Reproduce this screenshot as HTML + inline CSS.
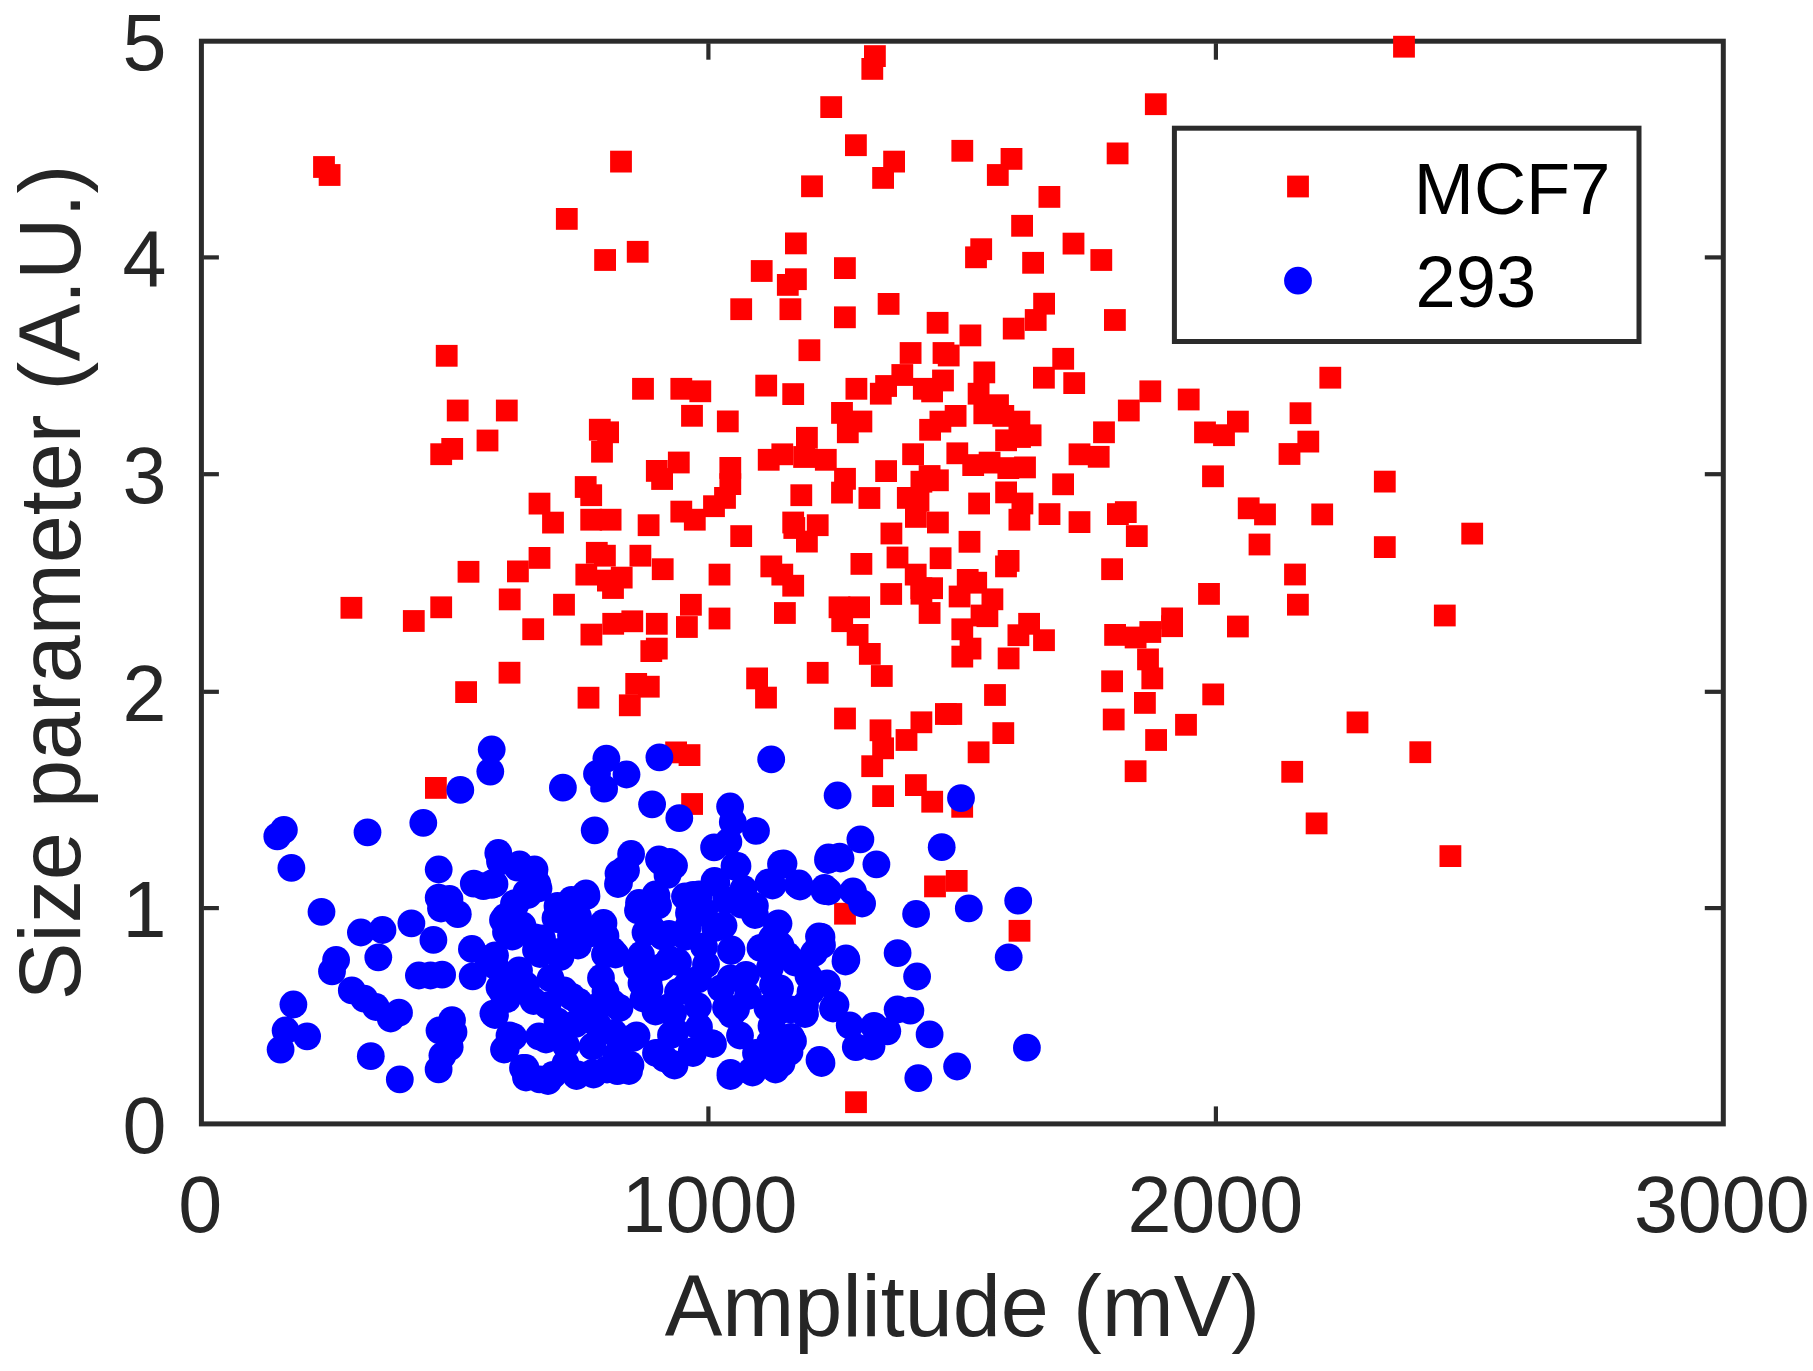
<!DOCTYPE html>
<html lang="en"><head><meta charset="utf-8"><title>Size parameter vs Amplitude</title>
<style>html,body{margin:0;padding:0;background:#fff}body{width:1813px;height:1371px;overflow:hidden}svg{display:block}text{font-family:"Liberation Sans",Arial,Helvetica,sans-serif}</style>
</head><body>
<svg width="1813" height="1371" viewBox="0 0 1813 1371">
<rect x="0" y="0" width="1813" height="1371" fill="#ffffff"/>
<g stroke="#2b2b2b" stroke-width="5" fill="none" stroke-linecap="butt">
<rect x="201.4" y="41.2" width="1521.9" height="1082.7"/>
</g>
<g stroke="#2b2b2b" stroke-width="4.2" fill="none">
<line x1="708.4" y1="1121.9" x2="708.4" y2="1106.4"/>
<line x1="708.4" y1="43.2" x2="708.4" y2="59.7"/>
<line x1="1215.9" y1="1121.9" x2="1215.9" y2="1106.4"/>
<line x1="1215.9" y1="43.2" x2="1215.9" y2="59.7"/>
<line x1="203.4" y1="257.4" x2="218.9" y2="257.4"/>
<line x1="1721.3" y1="257.4" x2="1704.8" y2="257.4"/>
<line x1="203.4" y1="474.2" x2="218.9" y2="474.2"/>
<line x1="1721.3" y1="474.2" x2="1704.8" y2="474.2"/>
<line x1="203.4" y1="691.8" x2="218.9" y2="691.8"/>
<line x1="1721.3" y1="691.8" x2="1704.8" y2="691.8"/>
<line x1="203.4" y1="908.1" x2="218.9" y2="908.1"/>
<line x1="1721.3" y1="908.1" x2="1704.8" y2="908.1"/>
</g>
<g fill="#ff0000">
<rect x="313.1" y="156.1" width="21.8" height="21.8"/>
<rect x="318.7" y="164.1" width="21.8" height="21.8"/>
<rect x="555.9" y="208.0" width="21.8" height="21.8"/>
<rect x="864.0" y="45.2" width="21.8" height="21.8"/>
<rect x="861.4" y="58.0" width="21.8" height="21.8"/>
<rect x="820.3" y="96.2" width="21.8" height="21.8"/>
<rect x="845.0" y="134.3" width="21.8" height="21.8"/>
<rect x="951.4" y="139.9" width="21.8" height="21.8"/>
<rect x="883.2" y="150.7" width="21.8" height="21.8"/>
<rect x="872.2" y="167.0" width="21.8" height="21.8"/>
<rect x="986.9" y="164.1" width="21.8" height="21.8"/>
<rect x="610.1" y="150.7" width="21.8" height="21.8"/>
<rect x="801.1" y="175.4" width="21.8" height="21.8"/>
<rect x="785.0" y="232.5" width="21.8" height="21.8"/>
<rect x="626.8" y="240.9" width="21.8" height="21.8"/>
<rect x="594.2" y="249.1" width="21.8" height="21.8"/>
<rect x="970.3" y="238.3" width="21.8" height="21.8"/>
<rect x="965.1" y="246.4" width="21.8" height="21.8"/>
<rect x="834.0" y="257.2" width="21.8" height="21.8"/>
<rect x="750.8" y="260.1" width="21.8" height="21.8"/>
<rect x="785.0" y="268.3" width="21.8" height="21.8"/>
<rect x="776.9" y="274.0" width="21.8" height="21.8"/>
<rect x="730.3" y="298.3" width="21.8" height="21.8"/>
<rect x="779.5" y="298.3" width="21.8" height="21.8"/>
<rect x="877.7" y="293.0" width="21.8" height="21.8"/>
<rect x="834.0" y="306.4" width="21.8" height="21.8"/>
<rect x="926.7" y="311.9" width="21.8" height="21.8"/>
<rect x="959.5" y="324.5" width="21.8" height="21.8"/>
<rect x="1144.9" y="93.3" width="21.8" height="21.8"/>
<rect x="1106.7" y="142.5" width="21.8" height="21.8"/>
<rect x="1000.6" y="148.0" width="21.8" height="21.8"/>
<rect x="1038.5" y="186.0" width="21.8" height="21.8"/>
<rect x="1011.2" y="214.9" width="21.8" height="21.8"/>
<rect x="1062.6" y="232.7" width="21.8" height="21.8"/>
<rect x="1090.4" y="249.1" width="21.8" height="21.8"/>
<rect x="1022.2" y="251.9" width="21.8" height="21.8"/>
<rect x="1033.2" y="292.8" width="21.8" height="21.8"/>
<rect x="1024.8" y="309.1" width="21.8" height="21.8"/>
<rect x="1002.8" y="317.7" width="21.8" height="21.8"/>
<rect x="1104.0" y="309.1" width="21.8" height="21.8"/>
<rect x="1393.1" y="35.8" width="21.8" height="21.8"/>
<rect x="435.8" y="344.9" width="21.8" height="21.8"/>
<rect x="446.8" y="399.6" width="21.8" height="21.8"/>
<rect x="495.9" y="399.6" width="21.8" height="21.8"/>
<rect x="476.6" y="429.6" width="21.8" height="21.8"/>
<rect x="441.3" y="438.0" width="21.8" height="21.8"/>
<rect x="430.3" y="443.3" width="21.8" height="21.8"/>
<rect x="528.6" y="492.7" width="21.8" height="21.8"/>
<rect x="542.1" y="511.7" width="21.8" height="21.8"/>
<rect x="528.6" y="547.0" width="21.8" height="21.8"/>
<rect x="457.6" y="560.9" width="21.8" height="21.8"/>
<rect x="507.0" y="560.5" width="21.8" height="21.8"/>
<rect x="340.5" y="596.9" width="21.8" height="21.8"/>
<rect x="430.3" y="596.4" width="21.8" height="21.8"/>
<rect x="402.9" y="610.1" width="21.8" height="21.8"/>
<rect x="498.8" y="588.5" width="21.8" height="21.8"/>
<rect x="553.1" y="593.8" width="21.8" height="21.8"/>
<rect x="522.3" y="618.3" width="21.8" height="21.8"/>
<rect x="798.5" y="339.3" width="21.8" height="21.8"/>
<rect x="632.1" y="377.9" width="21.8" height="21.8"/>
<rect x="670.4" y="377.9" width="21.8" height="21.8"/>
<rect x="689.4" y="380.4" width="21.8" height="21.8"/>
<rect x="755.3" y="374.7" width="21.8" height="21.8"/>
<rect x="782.3" y="383.2" width="21.8" height="21.8"/>
<rect x="845.5" y="377.9" width="21.8" height="21.8"/>
<rect x="681.1" y="404.9" width="21.8" height="21.8"/>
<rect x="716.9" y="410.5" width="21.8" height="21.8"/>
<rect x="831.1" y="402.0" width="21.8" height="21.8"/>
<rect x="836.9" y="421.4" width="21.8" height="21.8"/>
<rect x="588.9" y="418.8" width="21.8" height="21.8"/>
<rect x="597.2" y="421.4" width="21.8" height="21.8"/>
<rect x="591.1" y="440.8" width="21.8" height="21.8"/>
<rect x="796.0" y="426.9" width="21.8" height="21.8"/>
<rect x="771.4" y="443.4" width="21.8" height="21.8"/>
<rect x="757.8" y="448.9" width="21.8" height="21.8"/>
<rect x="793.2" y="446.1" width="21.8" height="21.8"/>
<rect x="814.9" y="448.9" width="21.8" height="21.8"/>
<rect x="667.9" y="451.6" width="21.8" height="21.8"/>
<rect x="645.9" y="460.0" width="21.8" height="21.8"/>
<rect x="651.2" y="468.1" width="21.8" height="21.8"/>
<rect x="719.4" y="457.0" width="21.8" height="21.8"/>
<rect x="719.4" y="473.2" width="21.8" height="21.8"/>
<rect x="714.1" y="487.0" width="21.8" height="21.8"/>
<rect x="703.1" y="495.3" width="21.8" height="21.8"/>
<rect x="670.4" y="500.7" width="21.8" height="21.8"/>
<rect x="683.9" y="508.8" width="21.8" height="21.8"/>
<rect x="574.8" y="476.1" width="21.8" height="21.8"/>
<rect x="580.3" y="484.3" width="21.8" height="21.8"/>
<rect x="580.3" y="508.8" width="21.8" height="21.8"/>
<rect x="599.7" y="508.8" width="21.8" height="21.8"/>
<rect x="637.7" y="514.3" width="21.8" height="21.8"/>
<rect x="834.1" y="467.9" width="21.8" height="21.8"/>
<rect x="831.1" y="481.7" width="21.8" height="21.8"/>
<rect x="790.4" y="484.3" width="21.8" height="21.8"/>
<rect x="782.3" y="511.6" width="21.8" height="21.8"/>
<rect x="783.4" y="517.1" width="21.8" height="21.8"/>
<rect x="796.0" y="530.7" width="21.8" height="21.8"/>
<rect x="806.8" y="514.3" width="21.8" height="21.8"/>
<rect x="730.3" y="525.2" width="21.8" height="21.8"/>
<rect x="585.9" y="541.9" width="21.8" height="21.8"/>
<rect x="594.0" y="544.8" width="21.8" height="21.8"/>
<rect x="629.5" y="544.8" width="21.8" height="21.8"/>
<rect x="899.7" y="342.1" width="21.8" height="21.8"/>
<rect x="891.4" y="364.1" width="21.8" height="21.8"/>
<rect x="875.2" y="375.1" width="21.8" height="21.8"/>
<rect x="869.9" y="382.8" width="21.8" height="21.8"/>
<rect x="932.6" y="342.1" width="21.8" height="21.8"/>
<rect x="937.8" y="344.6" width="21.8" height="21.8"/>
<rect x="932.1" y="369.6" width="21.8" height="21.8"/>
<rect x="912.9" y="377.9" width="21.8" height="21.8"/>
<rect x="921.2" y="380.5" width="21.8" height="21.8"/>
<rect x="973.4" y="361.5" width="21.8" height="21.8"/>
<rect x="967.7" y="382.8" width="21.8" height="21.8"/>
<rect x="987.1" y="394.3" width="21.8" height="21.8"/>
<rect x="973.4" y="402.4" width="21.8" height="21.8"/>
<rect x="992.4" y="405.0" width="21.8" height="21.8"/>
<rect x="1008.5" y="410.7" width="21.8" height="21.8"/>
<rect x="1019.7" y="424.4" width="21.8" height="21.8"/>
<rect x="995.2" y="429.4" width="21.8" height="21.8"/>
<rect x="1052.3" y="347.9" width="21.8" height="21.8"/>
<rect x="1033.0" y="366.8" width="21.8" height="21.8"/>
<rect x="1063.3" y="372.2" width="21.8" height="21.8"/>
<rect x="1117.9" y="399.6" width="21.8" height="21.8"/>
<rect x="1093.1" y="421.4" width="21.8" height="21.8"/>
<rect x="850.5" y="410.6" width="21.8" height="21.8"/>
<rect x="944.7" y="405.0" width="21.8" height="21.8"/>
<rect x="929.5" y="410.7" width="21.8" height="21.8"/>
<rect x="919.2" y="418.9" width="21.8" height="21.8"/>
<rect x="902.2" y="443.3" width="21.8" height="21.8"/>
<rect x="946.4" y="442.4" width="21.8" height="21.8"/>
<rect x="962.3" y="454.2" width="21.8" height="21.8"/>
<rect x="978.7" y="451.7" width="21.8" height="21.8"/>
<rect x="997.4" y="457.2" width="21.8" height="21.8"/>
<rect x="1014.1" y="456.5" width="21.8" height="21.8"/>
<rect x="995.2" y="481.5" width="21.8" height="21.8"/>
<rect x="1011.5" y="492.6" width="21.8" height="21.8"/>
<rect x="1008.5" y="508.8" width="21.8" height="21.8"/>
<rect x="1068.6" y="443.4" width="21.8" height="21.8"/>
<rect x="1087.8" y="445.9" width="21.8" height="21.8"/>
<rect x="1052.2" y="473.4" width="21.8" height="21.8"/>
<rect x="875.2" y="460.2" width="21.8" height="21.8"/>
<rect x="858.5" y="487.1" width="21.8" height="21.8"/>
<rect x="918.7" y="465.1" width="21.8" height="21.8"/>
<rect x="927.0" y="469.4" width="21.8" height="21.8"/>
<rect x="910.5" y="470.8" width="21.8" height="21.8"/>
<rect x="896.9" y="487.0" width="21.8" height="21.8"/>
<rect x="907.6" y="489.8" width="21.8" height="21.8"/>
<rect x="905.0" y="506.0" width="21.8" height="21.8"/>
<rect x="927.0" y="511.6" width="21.8" height="21.8"/>
<rect x="968.2" y="492.6" width="21.8" height="21.8"/>
<rect x="1038.6" y="503.2" width="21.8" height="21.8"/>
<rect x="1068.6" y="511.2" width="21.8" height="21.8"/>
<rect x="1107.0" y="503.2" width="21.8" height="21.8"/>
<rect x="1114.9" y="501.2" width="21.8" height="21.8"/>
<rect x="1125.9" y="525.2" width="21.8" height="21.8"/>
<rect x="880.5" y="522.6" width="21.8" height="21.8"/>
<rect x="958.6" y="530.9" width="21.8" height="21.8"/>
<rect x="1319.4" y="366.8" width="21.8" height="21.8"/>
<rect x="1139.4" y="380.4" width="21.8" height="21.8"/>
<rect x="1177.8" y="388.6" width="21.8" height="21.8"/>
<rect x="1289.6" y="402.3" width="21.8" height="21.8"/>
<rect x="1227.0" y="410.7" width="21.8" height="21.8"/>
<rect x="1194.1" y="421.5" width="21.8" height="21.8"/>
<rect x="1213.1" y="424.3" width="21.8" height="21.8"/>
<rect x="1297.4" y="430.7" width="21.8" height="21.8"/>
<rect x="1278.6" y="443.1" width="21.8" height="21.8"/>
<rect x="1202.1" y="465.4" width="21.8" height="21.8"/>
<rect x="1373.9" y="470.7" width="21.8" height="21.8"/>
<rect x="1237.8" y="497.4" width="21.8" height="21.8"/>
<rect x="1254.1" y="503.5" width="21.8" height="21.8"/>
<rect x="1311.3" y="503.5" width="21.8" height="21.8"/>
<rect x="1461.3" y="522.7" width="21.8" height="21.8"/>
<rect x="1248.6" y="533.6" width="21.8" height="21.8"/>
<rect x="1373.9" y="536.2" width="21.8" height="21.8"/>
<rect x="1284.1" y="563.6" width="21.8" height="21.8"/>
<rect x="1198.1" y="583.0" width="21.8" height="21.8"/>
<rect x="1287.0" y="593.8" width="21.8" height="21.8"/>
<rect x="1433.9" y="604.6" width="21.8" height="21.8"/>
<rect x="1161.2" y="607.5" width="21.8" height="21.8"/>
<rect x="1227.0" y="615.6" width="21.8" height="21.8"/>
<rect x="1139.4" y="621.1" width="21.8" height="21.8"/>
<rect x="580.5" y="623.7" width="21.8" height="21.8"/>
<rect x="498.6" y="661.8" width="21.8" height="21.8"/>
<rect x="455.2" y="681.2" width="21.8" height="21.8"/>
<rect x="577.6" y="686.8" width="21.8" height="21.8"/>
<rect x="425.0" y="777.0" width="21.8" height="21.8"/>
<rect x="597.0" y="569.7" width="21.8" height="21.8"/>
<rect x="610.8" y="566.7" width="21.8" height="21.8"/>
<rect x="602.1" y="577.1" width="21.8" height="21.8"/>
<rect x="651.8" y="558.3" width="21.8" height="21.8"/>
<rect x="708.6" y="563.7" width="21.8" height="21.8"/>
<rect x="760.4" y="555.5" width="21.8" height="21.8"/>
<rect x="771.4" y="563.7" width="21.8" height="21.8"/>
<rect x="782.3" y="574.8" width="21.8" height="21.8"/>
<rect x="850.5" y="553.0" width="21.8" height="21.8"/>
<rect x="680.0" y="593.9" width="21.8" height="21.8"/>
<rect x="676.0" y="616.1" width="21.8" height="21.8"/>
<rect x="708.6" y="607.6" width="21.8" height="21.8"/>
<rect x="774.0" y="602.1" width="21.8" height="21.8"/>
<rect x="828.6" y="596.4" width="21.8" height="21.8"/>
<rect x="848.2" y="596.4" width="21.8" height="21.8"/>
<rect x="831.3" y="610.3" width="21.8" height="21.8"/>
<rect x="846.7" y="624.0" width="21.8" height="21.8"/>
<rect x="858.9" y="643.0" width="21.8" height="21.8"/>
<rect x="602.3" y="612.9" width="21.8" height="21.8"/>
<rect x="621.4" y="610.4" width="21.8" height="21.8"/>
<rect x="645.9" y="612.9" width="21.8" height="21.8"/>
<rect x="640.4" y="640.2" width="21.8" height="21.8"/>
<rect x="645.9" y="637.7" width="21.8" height="21.8"/>
<rect x="625.3" y="673.0" width="21.8" height="21.8"/>
<rect x="637.9" y="675.8" width="21.8" height="21.8"/>
<rect x="618.9" y="694.4" width="21.8" height="21.8"/>
<rect x="746.2" y="667.5" width="21.8" height="21.8"/>
<rect x="755.1" y="686.7" width="21.8" height="21.8"/>
<rect x="806.8" y="661.9" width="21.8" height="21.8"/>
<rect x="834.1" y="707.6" width="21.8" height="21.8"/>
<rect x="665.2" y="741.5" width="21.8" height="21.8"/>
<rect x="678.6" y="744.2" width="21.8" height="21.8"/>
<rect x="886.6" y="546.6" width="21.8" height="21.8"/>
<rect x="929.7" y="547.3" width="21.8" height="21.8"/>
<rect x="997.7" y="550.0" width="21.8" height="21.8"/>
<rect x="995.1" y="555.5" width="21.8" height="21.8"/>
<rect x="1101.2" y="558.3" width="21.8" height="21.8"/>
<rect x="904.8" y="563.7" width="21.8" height="21.8"/>
<rect x="910.5" y="577.3" width="21.8" height="21.8"/>
<rect x="921.2" y="577.3" width="21.8" height="21.8"/>
<rect x="910.5" y="582.8" width="21.8" height="21.8"/>
<rect x="918.7" y="602.1" width="21.8" height="21.8"/>
<rect x="880.3" y="583.1" width="21.8" height="21.8"/>
<rect x="870.9" y="665.1" width="21.8" height="21.8"/>
<rect x="956.8" y="569.0" width="21.8" height="21.8"/>
<rect x="965.3" y="571.8" width="21.8" height="21.8"/>
<rect x="948.7" y="585.6" width="21.8" height="21.8"/>
<rect x="981.5" y="588.4" width="21.8" height="21.8"/>
<rect x="970.6" y="604.6" width="21.8" height="21.8"/>
<rect x="976.5" y="605.3" width="21.8" height="21.8"/>
<rect x="951.4" y="618.4" width="21.8" height="21.8"/>
<rect x="959.6" y="637.7" width="21.8" height="21.8"/>
<rect x="951.4" y="645.7" width="21.8" height="21.8"/>
<rect x="1018.2" y="612.9" width="21.8" height="21.8"/>
<rect x="1007.5" y="624.3" width="21.8" height="21.8"/>
<rect x="1033.1" y="629.3" width="21.8" height="21.8"/>
<rect x="997.7" y="647.5" width="21.8" height="21.8"/>
<rect x="1104.2" y="624.0" width="21.8" height="21.8"/>
<rect x="1124.7" y="626.6" width="21.8" height="21.8"/>
<rect x="1137.1" y="648.5" width="21.8" height="21.8"/>
<rect x="1141.4" y="667.5" width="21.8" height="21.8"/>
<rect x="1101.2" y="670.4" width="21.8" height="21.8"/>
<rect x="1134.0" y="692.0" width="21.8" height="21.8"/>
<rect x="1102.8" y="708.6" width="21.8" height="21.8"/>
<rect x="1145.2" y="729.1" width="21.8" height="21.8"/>
<rect x="1124.7" y="760.3" width="21.8" height="21.8"/>
<rect x="984.1" y="684.1" width="21.8" height="21.8"/>
<rect x="935.0" y="703.1" width="21.8" height="21.8"/>
<rect x="940.4" y="703.1" width="21.8" height="21.8"/>
<rect x="910.5" y="711.4" width="21.8" height="21.8"/>
<rect x="895.6" y="729.1" width="21.8" height="21.8"/>
<rect x="869.6" y="719.4" width="21.8" height="21.8"/>
<rect x="872.2" y="737.4" width="21.8" height="21.8"/>
<rect x="861.3" y="755.3" width="21.8" height="21.8"/>
<rect x="992.4" y="722.2" width="21.8" height="21.8"/>
<rect x="967.7" y="741.4" width="21.8" height="21.8"/>
<rect x="1161.2" y="615.3" width="21.8" height="21.8"/>
<rect x="1202.3" y="683.5" width="21.8" height="21.8"/>
<rect x="1175.1" y="713.9" width="21.8" height="21.8"/>
<rect x="1346.6" y="711.5" width="21.8" height="21.8"/>
<rect x="1409.4" y="741.3" width="21.8" height="21.8"/>
<rect x="1281.3" y="760.9" width="21.8" height="21.8"/>
<rect x="1305.7" y="812.5" width="21.8" height="21.8"/>
<rect x="1439.5" y="845.2" width="21.8" height="21.8"/>
<rect x="681.2" y="793.1" width="21.8" height="21.8"/>
<rect x="676.5" y="904.1" width="21.8" height="21.8"/>
<rect x="834.1" y="902.8" width="21.8" height="21.8"/>
<rect x="872.2" y="785.2" width="21.8" height="21.8"/>
<rect x="905.0" y="774.2" width="21.8" height="21.8"/>
<rect x="921.3" y="790.8" width="21.8" height="21.8"/>
<rect x="951.3" y="795.9" width="21.8" height="21.8"/>
<rect x="945.8" y="870.0" width="21.8" height="21.8"/>
<rect x="924.1" y="875.5" width="21.8" height="21.8"/>
<rect x="1008.6" y="919.9" width="21.8" height="21.8"/>
<rect x="845.1" y="1091.3" width="21.8" height="21.8"/>
<rect x="575.4" y="563.7" width="21.8" height="21.8"/>
<rect x="1009.1" y="426.1" width="21.8" height="21.8"/>
</g>
<g fill="#0000ff">
<circle cx="491.7" cy="749.5" r="13.9"/>
<circle cx="490.3" cy="771.6" r="13.9"/>
<circle cx="460.3" cy="789.9" r="13.9"/>
<circle cx="562.9" cy="787.7" r="13.9"/>
<circle cx="606.4" cy="758.6" r="13.9"/>
<circle cx="626.5" cy="774.5" r="13.9"/>
<circle cx="597.0" cy="773.8" r="13.9"/>
<circle cx="659.4" cy="757.4" r="13.9"/>
<circle cx="771.2" cy="759.4" r="13.9"/>
<circle cx="283.9" cy="829.8" r="13.9"/>
<circle cx="277.3" cy="836.4" r="13.9"/>
<circle cx="367.5" cy="832.3" r="13.9"/>
<circle cx="423.3" cy="822.8" r="13.9"/>
<circle cx="291.4" cy="867.9" r="13.9"/>
<circle cx="438.7" cy="869.5" r="13.9"/>
<circle cx="498.3" cy="853.0" r="13.9"/>
<circle cx="321.5" cy="911.8" r="13.9"/>
<circle cx="473.8" cy="883.6" r="13.9"/>
<circle cx="493.0" cy="882.8" r="13.9"/>
<circle cx="483.4" cy="886.1" r="13.9"/>
<circle cx="438.7" cy="897.7" r="13.9"/>
<circle cx="448.7" cy="906.0" r="13.9"/>
<circle cx="457.8" cy="914.2" r="13.9"/>
<circle cx="411.4" cy="923.3" r="13.9"/>
<circle cx="433.4" cy="939.9" r="13.9"/>
<circle cx="360.9" cy="932.5" r="13.9"/>
<circle cx="382.5" cy="930.0" r="13.9"/>
<circle cx="378.3" cy="957.3" r="13.9"/>
<circle cx="336.1" cy="959.8" r="13.9"/>
<circle cx="332.0" cy="971.4" r="13.9"/>
<circle cx="471.9" cy="949.0" r="13.9"/>
<circle cx="418.9" cy="975.5" r="13.9"/>
<circle cx="442.1" cy="974.7" r="13.9"/>
<circle cx="430.5" cy="975.5" r="13.9"/>
<circle cx="472.7" cy="976.3" r="13.9"/>
<circle cx="488.4" cy="958.9" r="13.9"/>
<circle cx="495.0" cy="965.6" r="13.9"/>
<circle cx="351.8" cy="990.4" r="13.9"/>
<circle cx="364.2" cy="998.7" r="13.9"/>
<circle cx="375.8" cy="1007.0" r="13.9"/>
<circle cx="399.0" cy="1012.7" r="13.9"/>
<circle cx="390.7" cy="1018.5" r="13.9"/>
<circle cx="293.4" cy="1004.5" r="13.9"/>
<circle cx="452.0" cy="1020.2" r="13.9"/>
<circle cx="493.4" cy="1013.6" r="13.9"/>
<circle cx="518.2" cy="972.2" r="13.9"/>
<circle cx="594.7" cy="830.3" r="13.9"/>
<circle cx="604.1" cy="788.7" r="13.9"/>
<circle cx="652.1" cy="804.3" r="13.9"/>
<circle cx="679.3" cy="818.1" r="13.9"/>
<circle cx="518.6" cy="866.1" r="13.9"/>
<circle cx="534.1" cy="871.6" r="13.9"/>
<circle cx="537.4" cy="883.8" r="13.9"/>
<circle cx="491.6" cy="884.9" r="13.9"/>
<circle cx="526.3" cy="892.6" r="13.9"/>
<circle cx="515.3" cy="904.7" r="13.9"/>
<circle cx="505.4" cy="916.9" r="13.9"/>
<circle cx="507.6" cy="931.2" r="13.9"/>
<circle cx="584.8" cy="894.8" r="13.9"/>
<circle cx="572.7" cy="901.4" r="13.9"/>
<circle cx="559.4" cy="908.0" r="13.9"/>
<circle cx="557.2" cy="919.1" r="13.9"/>
<circle cx="602.4" cy="924.6" r="13.9"/>
<circle cx="590.3" cy="933.4" r="13.9"/>
<circle cx="573.8" cy="927.9" r="13.9"/>
<circle cx="631.1" cy="854.0" r="13.9"/>
<circle cx="624.5" cy="869.4" r="13.9"/>
<circle cx="619.0" cy="882.7" r="13.9"/>
<circle cx="660.9" cy="861.7" r="13.9"/>
<circle cx="671.9" cy="867.2" r="13.9"/>
<circle cx="667.5" cy="874.9" r="13.9"/>
<circle cx="656.5" cy="895.9" r="13.9"/>
<circle cx="640.0" cy="904.7" r="13.9"/>
<circle cx="647.7" cy="916.9" r="13.9"/>
<circle cx="652.1" cy="929.0" r="13.9"/>
<circle cx="837.6" cy="795.5" r="13.9"/>
<circle cx="730.1" cy="806.5" r="13.9"/>
<circle cx="732.8" cy="822.0" r="13.9"/>
<circle cx="756.0" cy="830.8" r="13.9"/>
<circle cx="714.1" cy="847.4" r="13.9"/>
<circle cx="728.4" cy="841.8" r="13.9"/>
<circle cx="736.1" cy="867.2" r="13.9"/>
<circle cx="716.3" cy="882.7" r="13.9"/>
<circle cx="782.4" cy="865.0" r="13.9"/>
<circle cx="771.4" cy="883.8" r="13.9"/>
<circle cx="797.9" cy="884.9" r="13.9"/>
<circle cx="825.5" cy="889.3" r="13.9"/>
<circle cx="853.0" cy="891.5" r="13.9"/>
<circle cx="829.6" cy="858.9" r="13.9"/>
<circle cx="839.6" cy="856.7" r="13.9"/>
<circle cx="860.4" cy="839.3" r="13.9"/>
<circle cx="820.0" cy="937.8" r="13.9"/>
<circle cx="776.9" cy="924.6" r="13.9"/>
<circle cx="741.6" cy="904.7" r="13.9"/>
<circle cx="754.9" cy="905.8" r="13.9"/>
<circle cx="693.1" cy="894.8" r="13.9"/>
<circle cx="704.1" cy="911.3" r="13.9"/>
<circle cx="687.6" cy="927.9" r="13.9"/>
<circle cx="715.2" cy="927.9" r="13.9"/>
<circle cx="726.2" cy="900.3" r="13.9"/>
<circle cx="685.4" cy="936.7" r="13.9"/>
<circle cx="696.4" cy="913.6" r="13.9"/>
<circle cx="961.0" cy="798.1" r="13.9"/>
<circle cx="876.4" cy="864.3" r="13.9"/>
<circle cx="941.7" cy="847.2" r="13.9"/>
<circle cx="862.1" cy="903.5" r="13.9"/>
<circle cx="916.1" cy="914.0" r="13.9"/>
<circle cx="968.8" cy="908.4" r="13.9"/>
<circle cx="1018.2" cy="900.7" r="13.9"/>
<circle cx="846.4" cy="959.8" r="13.9"/>
<circle cx="820.5" cy="1061.3" r="13.9"/>
<circle cx="1008.7" cy="957.3" r="13.9"/>
<circle cx="897.6" cy="953.1" r="13.9"/>
<circle cx="917.1" cy="976.5" r="13.9"/>
<circle cx="897.6" cy="1009.5" r="13.9"/>
<circle cx="910.4" cy="1010.7" r="13.9"/>
<circle cx="929.6" cy="1034.4" r="13.9"/>
<circle cx="1026.9" cy="1047.7" r="13.9"/>
<circle cx="957.1" cy="1066.5" r="13.9"/>
<circle cx="918.3" cy="1078.1" r="13.9"/>
<circle cx="833.9" cy="1007.1" r="13.9"/>
<circle cx="849.7" cy="1025.3" r="13.9"/>
<circle cx="874.0" cy="1025.9" r="13.9"/>
<circle cx="887.3" cy="1031.3" r="13.9"/>
<circle cx="855.8" cy="1047.1" r="13.9"/>
<circle cx="871.5" cy="1046.5" r="13.9"/>
<circle cx="285.6" cy="1030.5" r="13.9"/>
<circle cx="307.1" cy="1036.3" r="13.9"/>
<circle cx="280.6" cy="1049.6" r="13.9"/>
<circle cx="370.8" cy="1056.2" r="13.9"/>
<circle cx="399.8" cy="1079.4" r="13.9"/>
<circle cx="439.5" cy="1030.5" r="13.9"/>
<circle cx="449.7" cy="1047.1" r="13.9"/>
<circle cx="438.6" cy="1069.4" r="13.9"/>
<circle cx="510.6" cy="1037.2" r="13.9"/>
<circle cx="505.7" cy="1048.7" r="13.9"/>
<circle cx="524.7" cy="1069.4" r="13.9"/>
<circle cx="539.6" cy="1079.4" r="13.9"/>
<circle cx="547.0" cy="1079.5" r="13.9"/>
<circle cx="527.2" cy="1076.2" r="13.9"/>
<circle cx="577.6" cy="1074.5" r="13.9"/>
<circle cx="592.5" cy="1072.9" r="13.9"/>
<circle cx="617.4" cy="1071.2" r="13.9"/>
<circle cx="628.9" cy="1066.3" r="13.9"/>
<circle cx="673.6" cy="1064.1" r="13.9"/>
<circle cx="658.7" cy="1053.0" r="13.9"/>
<circle cx="691.8" cy="1051.4" r="13.9"/>
<circle cx="711.7" cy="1043.1" r="13.9"/>
<circle cx="731.5" cy="1074.5" r="13.9"/>
<circle cx="751.4" cy="1071.2" r="13.9"/>
<circle cx="774.6" cy="1067.9" r="13.9"/>
<circle cx="449.5" cy="899.0" r="13.9"/>
<circle cx="441.0" cy="908.5" r="13.9"/>
<circle cx="453.5" cy="1032.1" r="13.9"/>
<circle cx="442.4" cy="1055.6" r="13.9"/>
<circle cx="535.0" cy="937.5" r="13.9"/>
<circle cx="760.5" cy="948.0" r="13.9"/>
<circle cx="612.5" cy="951.0" r="13.9"/>
<circle cx="731.0" cy="951.0" r="13.9"/>
<circle cx="559.5" cy="952.0" r="13.9"/>
<circle cx="641.0" cy="955.0" r="13.9"/>
<circle cx="788.0" cy="956.0" r="13.9"/>
<circle cx="669.5" cy="959.5" r="13.9"/>
<circle cx="706.0" cy="964.5" r="13.9"/>
<circle cx="746.0" cy="975.0" r="13.9"/>
<circle cx="808.5" cy="976.0" r="13.9"/>
<circle cx="601.0" cy="978.0" r="13.9"/>
<circle cx="550.5" cy="978.5" r="13.9"/>
<circle cx="648.5" cy="982.0" r="13.9"/>
<circle cx="773.0" cy="985.0" r="13.9"/>
<circle cx="686.5" cy="985.5" r="13.9"/>
<circle cx="721.0" cy="988.5" r="13.9"/>
<circle cx="572.0" cy="997.0" r="13.9"/>
<circle cx="533.5" cy="1001.0" r="13.9"/>
<circle cx="613.0" cy="1003.5" r="13.9"/>
<circle cx="805.0" cy="1005.0" r="13.9"/>
<circle cx="668.5" cy="1007.5" r="13.9"/>
<circle cx="777.0" cy="1012.5" r="13.9"/>
<circle cx="731.5" cy="1014.5" r="13.9"/>
<circle cx="589.0" cy="1019.5" r="13.9"/>
<circle cx="557.5" cy="1021.5" r="13.9"/>
<circle cx="614.0" cy="1033.0" r="13.9"/>
<circle cx="791.0" cy="1037.0" r="13.9"/>
<circle cx="566.0" cy="1045.5" r="13.9"/>
<circle cx="698.0" cy="1006.5" r="13.9"/>
<circle cx="675.5" cy="1031.5" r="13.9"/>
<circle cx="539.0" cy="1036.5" r="13.9"/>
<circle cx="592.5" cy="1046.5" r="13.9"/>
<circle cx="740.0" cy="1035.5" r="13.9"/>
<circle cx="636.5" cy="1035.5" r="13.9"/>
<circle cx="502.5" cy="992.0" r="13.9"/>
<circle cx="770.0" cy="1042.5" r="13.9"/>
<circle cx="748.0" cy="996.0" r="13.9"/>
<circle cx="827.0" cy="983.5" r="13.9"/>
<circle cx="643.5" cy="998.5" r="13.9"/>
<circle cx="814.0" cy="953.0" r="13.9"/>
<circle cx="699.0" cy="1027.0" r="13.9"/>
<circle cx="540.0" cy="954.0" r="13.9"/>
<circle cx="743.5" cy="889.0" r="13.9"/>
<circle cx="704.0" cy="946.5" r="13.9"/>
<circle cx="789.5" cy="1052.0" r="13.9"/>
<circle cx="616.5" cy="1055.0" r="13.9"/>
<circle cx="770.0" cy="967.5" r="13.9"/>
<circle cx="662.5" cy="936.5" r="13.9"/>
<circle cx="565.5" cy="1063.5" r="13.9"/>
<circle cx="578.0" cy="945.5" r="13.9"/>
<circle cx="805.0" cy="1014.0" r="13.9"/>
<circle cx="756.0" cy="1053.0" r="13.9"/>
<circle cx="547.5" cy="1005.5" r="13.9"/>
<circle cx="637.0" cy="967.5" r="13.9"/>
<circle cx="655.5" cy="1011.5" r="13.9"/>
<circle cx="723.5" cy="925.5" r="13.9"/>
<circle cx="685.0" cy="896.5" r="13.9"/>
<circle cx="678.0" cy="962.0" r="13.9"/>
<circle cx="599.0" cy="1006.0" r="13.9"/>
<circle cx="526.0" cy="985.5" r="13.9"/>
<circle cx="755.0" cy="915.0" r="13.9"/>
<circle cx="780.0" cy="988.5" r="13.9"/>
<circle cx="619.5" cy="1008.0" r="13.9"/>
<circle cx="522.5" cy="925.5" r="13.9"/>
<circle cx="767.5" cy="1008.0" r="13.9"/>
<circle cx="575.5" cy="1024.0" r="13.9"/>
<circle cx="605.0" cy="954.5" r="13.9"/>
<circle cx="730.5" cy="978.5" r="13.9"/>
<circle cx="780.5" cy="945.5" r="13.9"/>
<circle cx="495.0" cy="955.5" r="13.9"/>
<circle cx="771.5" cy="1026.0" r="13.9"/>
<circle cx="698.0" cy="979.5" r="13.9"/>
<circle cx="678.0" cy="992.0" r="13.9"/>
<circle cx="507.0" cy="999.0" r="13.9"/>
<circle cx="645.5" cy="932.5" r="13.9"/>
<circle cx="662.0" cy="967.0" r="13.9"/>
<circle cx="658.0" cy="905.5" r="13.9"/>
<circle cx="726.0" cy="1007.5" r="13.9"/>
<circle cx="512.5" cy="936.5" r="13.9"/>
<circle cx="578.0" cy="916.5" r="13.9"/>
<circle cx="810.5" cy="992.0" r="13.9"/>
<circle cx="500.0" cy="861.5" r="13.9"/>
<circle cx="638.0" cy="910.5" r="13.9"/>
<circle cx="659.0" cy="859.5" r="13.9"/>
<circle cx="671.0" cy="1035.0" r="13.9"/>
<circle cx="538.5" cy="888.5" r="13.9"/>
<circle cx="629.0" cy="1071.0" r="13.9"/>
<circle cx="822.0" cy="945.0" r="13.9"/>
<circle cx="560.5" cy="957.0" r="13.9"/>
<circle cx="564.0" cy="990.5" r="13.9"/>
<circle cx="828.5" cy="891.5" r="13.9"/>
<circle cx="499.5" cy="987.5" r="13.9"/>
<circle cx="674.0" cy="865.5" r="13.9"/>
<circle cx="546.0" cy="1039.5" r="13.9"/>
<circle cx="768.5" cy="882.5" r="13.9"/>
<circle cx="605.5" cy="991.5" r="13.9"/>
<circle cx="618.5" cy="873.5" r="13.9"/>
<circle cx="795.0" cy="962.5" r="13.9"/>
<circle cx="641.5" cy="983.0" r="13.9"/>
<circle cx="714.5" cy="881.0" r="13.9"/>
<circle cx="542.0" cy="938.5" r="13.9"/>
<circle cx="615.5" cy="954.5" r="13.9"/>
<circle cx="553.0" cy="1075.0" r="13.9"/>
<circle cx="689.0" cy="913.0" r="13.9"/>
<circle cx="656.0" cy="1053.0" r="13.9"/>
<circle cx="605.5" cy="936.0" r="13.9"/>
<circle cx="586.0" cy="893.5" r="13.9"/>
<circle cx="845.5" cy="961.5" r="13.9"/>
<circle cx="819.5" cy="1060.0" r="13.9"/>
<circle cx="730.5" cy="1076.0" r="13.9"/>
<circle cx="828.0" cy="860.0" r="13.9"/>
<circle cx="783.5" cy="863.5" r="13.9"/>
<circle cx="504.0" cy="1049.5" r="13.9"/>
<circle cx="821.5" cy="1063.0" r="13.9"/>
<circle cx="835.5" cy="1004.5" r="13.9"/>
<circle cx="513.5" cy="1037.0" r="13.9"/>
<circle cx="800.0" cy="886.5" r="13.9"/>
<circle cx="713.0" cy="1044.0" r="13.9"/>
<circle cx="840.5" cy="858.5" r="13.9"/>
<circle cx="618.0" cy="884.0" r="13.9"/>
<circle cx="778.5" cy="923.5" r="13.9"/>
<circle cx="819.0" cy="936.5" r="13.9"/>
<circle cx="781.5" cy="1063.5" r="13.9"/>
<circle cx="603.5" cy="923.0" r="13.9"/>
<circle cx="557.5" cy="906.0" r="13.9"/>
<circle cx="673.0" cy="1013.5" r="13.9"/>
<circle cx="503.0" cy="920.0" r="13.9"/>
<circle cx="523.0" cy="1068.0" r="13.9"/>
<circle cx="790.5" cy="1009.5" r="13.9"/>
<circle cx="495.0" cy="1015.0" r="13.9"/>
<circle cx="674.5" cy="1065.5" r="13.9"/>
<circle cx="737.5" cy="866.0" r="13.9"/>
<circle cx="534.5" cy="869.5" r="13.9"/>
<circle cx="630.5" cy="1065.0" r="13.9"/>
<circle cx="833.0" cy="1008.5" r="13.9"/>
<circle cx="730.5" cy="1073.0" r="13.9"/>
<circle cx="536.0" cy="950.0" r="13.9"/>
<circle cx="639.0" cy="903.0" r="13.9"/>
<circle cx="669.0" cy="934.0" r="13.9"/>
<circle cx="526.0" cy="1077.5" r="13.9"/>
<circle cx="494.5" cy="884.0" r="13.9"/>
<circle cx="649.5" cy="989.0" r="13.9"/>
<circle cx="607.0" cy="1069.5" r="13.9"/>
<circle cx="846.0" cy="958.5" r="13.9"/>
<circle cx="752.5" cy="1072.5" r="13.9"/>
<circle cx="824.5" cy="888.0" r="13.9"/>
<circle cx="772.5" cy="885.5" r="13.9"/>
<circle cx="693.0" cy="1053.0" r="13.9"/>
<circle cx="519.0" cy="970.5" r="13.9"/>
<circle cx="576.5" cy="1076.0" r="13.9"/>
<circle cx="772.0" cy="938.0" r="13.9"/>
<circle cx="775.5" cy="1069.5" r="13.9"/>
<circle cx="793.0" cy="1041.0" r="13.9"/>
<circle cx="598.0" cy="1025.5" r="13.9"/>
<circle cx="781.0" cy="864.0" r="13.9"/>
<circle cx="626.0" cy="870.5" r="13.9"/>
<circle cx="579.0" cy="1002.0" r="13.9"/>
<circle cx="548.0" cy="1081.0" r="13.9"/>
<circle cx="514.0" cy="903.5" r="13.9"/>
<circle cx="528.0" cy="895.0" r="13.9"/>
<circle cx="736.0" cy="1009.0" r="13.9"/>
<circle cx="828.5" cy="857.5" r="13.9"/>
<circle cx="571.0" cy="935.5" r="13.9"/>
<circle cx="519.5" cy="864.5" r="13.9"/>
<circle cx="821.5" cy="937.0" r="13.9"/>
<circle cx="799.0" cy="883.5" r="13.9"/>
<circle cx="593.5" cy="1074.5" r="13.9"/>
<circle cx="699.0" cy="894.5" r="13.9"/>
<circle cx="664.5" cy="1058.5" r="13.9"/>
<circle cx="586.5" cy="896.0" r="13.9"/>
<circle cx="731.5" cy="949.5" r="13.9"/>
<circle cx="655.5" cy="894.5" r="13.9"/>
<circle cx="517.5" cy="867.5" r="13.9"/>
<circle cx="509.5" cy="1035.5" r="13.9"/>
<circle cx="669.5" cy="862.0" r="13.9"/>
<circle cx="734.5" cy="866.0" r="13.9"/>
<circle cx="525.5" cy="1068.0" r="13.9"/>
<circle cx="571.5" cy="900.0" r="13.9"/>
<circle cx="506.0" cy="932.0" r="13.9"/>
<circle cx="555.5" cy="918.0" r="13.9"/>
<circle cx="824.5" cy="891.0" r="13.9"/>
<circle cx="633.0" cy="1038.0" r="13.9"/>
</g>
<g fill="#262626" font-size="79px">
<text x="166.5" y="70.0" text-anchor="end">5</text>
<text x="166.5" y="286.2" text-anchor="end">4</text>
<text x="166.5" y="503.0" text-anchor="end">3</text>
<text x="166.5" y="720.6" text-anchor="end">2</text>
<text x="166.5" y="936.9" text-anchor="end">1</text>
<text x="166.5" y="1153.0" text-anchor="end">0</text>
<text x="200.3" y="1231.7" text-anchor="middle">0</text>
<text x="709.6" y="1231.7" text-anchor="middle">1000</text>
<text x="1215.3" y="1231.7" text-anchor="middle">2000</text>
<text x="1721.8" y="1231.7" text-anchor="middle">3000</text>
</g>
<g fill="#262626" font-size="86.4px">
<text x="962.4" y="1336" text-anchor="middle">Amplitude (mV)</text>
<text transform="translate(79.6,582.5) rotate(-90)" text-anchor="middle">Size parameter (A.U.)</text>
</g>
<rect x="1174.4" y="128.2" width="464.6" height="213.3" fill="#ffffff" stroke="#2b2b2b" stroke-width="5"/>
<rect x="1287.1" y="175.6" width="21.8" height="21.8" fill="#ff0000"/>
<circle cx="1298" cy="280.7" r="13.9" fill="#0000ff"/>
<g fill="#000000" font-size="72.2px">
<text x="1413.8" y="213.5">MCF7</text>
<text x="1415.6" y="307.3">293</text>
</g>
</svg></body></html>
